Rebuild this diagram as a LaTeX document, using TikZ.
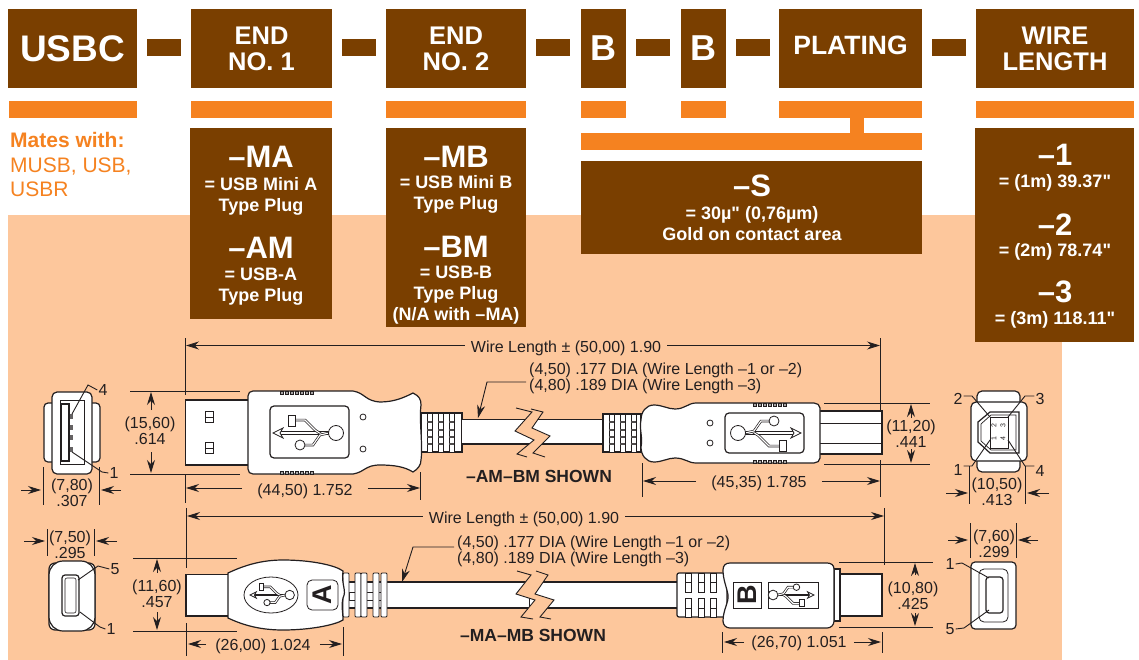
\documentclass[tikz,border=0pt]{standalone}
\usepackage{fontspec}
\setmainfont{Liberation Sans}[Ligatures=TeXOff]
\usepackage{tikz}
\usetikzlibrary{shapes,arrows,arrows.meta}
\definecolor{hdrbrown}{HTML}{7A3F00}
\definecolor{hdrorange}{HTML}{F58220}
\definecolor{hdrpeach}{HTML}{FDC79C}
\definecolor{ink}{HTML}{231F20}
\newcommand{\fsz}[1]{\fontsize{#1}{#1}\selectfont}
\tikzstyle{brownbox} = [rectangle, fill=hdrbrown, text=white, align=center, inner sep=0pt, font=\bfseries\fontsize{25.5}{26}\selectfont]
\tikzstyle{dashbar} = [rectangle, fill=hdrbrown, minimum width=34pt, minimum height=17pt, inner sep=0pt]
\tikzstyle{bar} = [rectangle, fill=hdrorange, minimum height=17pt, inner sep=0pt]
\tikzstyle{code} = [text=white, font=\bfseries\fsz{31}, inner sep=0pt]
\tikzstyle{sub} = [text=white, align=center, font=\bfseries\fontsize{18}{21}\selectfont, inner sep=0pt]
\tikzstyle{dimtext} = [text=ink, align=center, inner sep=1pt, yshift=-1pt, font=\fsz{16}]
\tikzstyle{shown} = [text=ink, inner sep=0pt, font=\bfseries\fsz{17.5}]
\tikzstyle{line} = [draw=ink, line width=.9pt, -{Stealth[length=13pt,width=8pt]}]
\tikzstyle{leader} = [draw=ink, line width=.9pt]
\tikzstyle{ext} = [draw=ink, line width=.9pt]
\tikzstyle{part} = [draw=ink, fill=white, line width=1.2pt]
\tikzstyle{rail} = [draw=ink, double=white, double distance=1.1pt, line width=.7pt]
\tikzset{usblogo/.pic={
  \draw [part, line width=.7pt] (5,-1.2) rectangle (56,1.2);
  \draw [rail] (20,-13) -- (32,-13) -- (42,-3) -- (48,1);
  \draw [rail] (30,12) -- (40,12) -- (47,2) -- (56,0);
  \draw [part, line width=.8pt] (15,-18) rectangle (22,-7);
  \draw [part, line width=.8pt] (27,12) circle (5);
  \draw [part, line width=.8pt] (63,0) circle (7.5);
  \draw [part, line width=.8pt] (0,0) -- (10,-5) -- (7,0) -- (10,5) -- cycle;
}}

\begin{document}
\begin{tikzpicture}[x=1pt, y=-1pt]
\useasboundingbox (0,0) rectangle (1139,660);

% header row
\node [brownbox, minimum width=129pt, minimum height=79pt, font=\bfseries\fsz{37}] at (72.5, 48.5) (usbc) {USBC};
\node [brownbox, minimum width=141pt, minimum height=79pt] at (261.5, 48.5) (endone) {END\\NO. 1};
\node [brownbox, minimum width=140pt, minimum height=79pt] at (456, 48.5) (endtwo) {END\\NO. 2};
\node [brownbox, minimum width=45pt, minimum height=79pt, font=\bfseries\fsz{36}] at (603.5, 48.5) (bone) {B};
\node [brownbox, minimum width=45pt, minimum height=79pt, font=\bfseries\fsz{36}] at (703.5, 48.5) (btwo) {B};
\node [brownbox, minimum width=143pt, minimum height=79pt, text height=18pt, text depth=6pt, font=\bfseries\fsz{26.5}] at (850.5, 48.5) (plating) {PLATING};
\node [brownbox, minimum width=158pt, minimum height=79pt] at (1055, 48.5) (wire) {WIRE\\LENGTH};
\foreach \x/\n in {164/a, 359/b, 553/c, 653/d, 752.5/e, 949/f}
  \node [dashbar] at (\x, 47.5) (dash\n) {};

% orange bars
\node [bar, minimum width=128pt] at (73, 109.5) (barusbc) {};
\node [bar, minimum width=141pt] at (261.5, 109.5) (barone) {};
\node [bar, minimum width=140pt] at (456, 109.5) (bartwo) {};
\node [bar, minimum width=45pt] at (603.5, 109.5) (barb) {};
\node [bar, minimum width=45pt] at (703.5, 109.5) (barc) {};
\node [bar, minimum width=143pt] at (850.5, 109.5) (barplat) {};
\node [bar, minimum width=158pt] at (1055, 109.5) (barwire) {};
\node [bar, minimum width=14pt, minimum height=16pt] at (857, 125.5) (barstem) {};
\node [bar, minimum width=341pt] at (751.5, 141.5) (bartee) {};

\node [text=hdrorange, font=\bfseries\fsz{21}, inner sep=0pt, anchor=west] at (10, 140) (mates) {Mates with:};
\node [text=hdrorange, font=\fsz{21}, inner sep=0pt, anchor=west, align=left] at (10, 177) (matelist) {MUSB, USB,\\[3pt]USBR};

% peach panel
\fill [hdrpeach] (8, 215) rectangle (1062, 660);

% option boxes
\node [brownbox, minimum width=142pt, minimum height=191pt] at (261, 223.5) (boxone) {};
\node [code] at (261, 157) (ma) {–MA};
\node [sub] at (261, 196) (masub) {= USB Mini A\\Type Plug};
\node [code] at (261, 248) (am) {–AM};
\node [sub] at (261, 286.5) (amsub) {= USB-A\\Type Plug};

\node [brownbox, minimum width=140pt, minimum height=199pt] at (456, 227.5) (boxtwo) {};
\node [code] at (456, 157) (mb) {–MB};
\node [sub] at (456, 194.5) (mbsub) {= USB Mini B\\Type Plug};
\node [code] at (456, 247) (bm) {–BM};
\node [sub] at (456, 295.5) (bmsub) {= USB-B\\Type Plug\\(N/A with –MA)};

\node [brownbox, minimum width=341pt, minimum height=93pt] at (751.5, 207.5) (boxplat) {};
\node [code] at (752, 186) (gold) {–S};
\node [sub] at (752, 224) (goldsub) {= 30µ" (0,76µm)\\Gold on contact area};

\node [brownbox, minimum width=159pt, minimum height=214pt] at (1054.5, 235) (boxwire) {};
\node [code] at (1055, 155) (one) {–1};
\node [sub] at (1055, 183) (onesub) {= (1m) 39.37"};
\node [code] at (1055, 225) (two) {–2};
\node [sub] at (1055, 252) (twosub) {= (2m) 78.74"};
\node [code] at (1055, 292) (three) {–3};
\node [sub] at (1055, 320) (threesub) {= (3m) 118.11"};

% front view, type A
\draw [part, rounded corners=4pt] (44, 403) rectangle (100, 462);
\draw [part, rounded corners=5pt] (52, 392) rectangle (92, 474);
\draw [part, line width=.8pt] (60, 400) rectangle (84, 464);
\draw [part, fill=white] (61.5, 404) rectangle (69, 461);
\foreach \y in {416, 427, 437, 449}
  \fill [ink!70] (70, \y-2.5) rectangle (73, \y+2.5);
\node [dimtext] at (103, 389) (afour) {4};
\node [dimtext] at (114, 472) (aone) {1};
\coordinate (apinfour) at (72, 414);
\coordinate (apinone) at (72, 452);
\path [leader] (afour.west) -- (88, 385) -- (apinfour);
\path [leader] (aone.west) -- (102, 472) -- (apinone);

\draw [ext] (43, 467) -- (43, 505);
\draw [ext] (99, 467) -- (99, 505);
\node [dimtext, yshift=-1pt] at (72, 491) (asize) {(7,80)\\.307};
\coordinate (asizel) at (41, 490);
\coordinate (asizer) at (101, 490);
\path [line] ([xshift=-20pt]asizel) to (asizel);
\path [line] ([xshift=20pt]asizer) to (asizer);

% type A plug
\draw [ext] (130, 391) -- (240, 391);
\draw [ext] (130, 474) -- (240, 474);
\draw [ext] (185.5, 338) -- (185.5, 395);
\draw [ext] (185.5, 474) -- (185.5, 503);
\draw [ext] (420.5, 472) -- (420.5, 500);
\node [dimtext] at (150, 430) (aheight) {(15,60)\\.614};
\coordinate (ahtop) at (151, 392);
\coordinate (ahbot) at (151, 473);
\path [line] (151, 410) to (ahtop);
\path [line] (151, 452) to (ahbot);

\draw [part] (185.5, 400) rectangle (250, 465);
\foreach \y in {417, 448} {
  \draw [part, line width=.8pt] (205, \y-5.5) rectangle (213, \y+5.5);
  \draw [ink, line width=.8pt] (205, \y) -- (213, \y);
}
\draw [part] (462, 413) -- (421, 413) -- (421, 452) -- (462, 452) -- cycle;
\foreach \x in {427, 438, 449} {
  \draw [ink, fill=white, line width=.9pt] (\x, 413) rectangle (\x+5, 452);
  \foreach \y in {422, 430, 437, 444}
    \draw [ink!80, line width=1.4pt] (\x, \y) -- (\x+5, \y);
}
\draw [part] (248, 396) .. controls (248, 393) and (250, 391) .. (253, 391) -- (353, 391)
  .. controls (365, 393) and (365, 401) .. (380, 402) .. controls (395, 402) and (405, 397) .. (413, 393)
  .. controls (419, 396) and (421, 399) .. (421, 405) .. controls (419, 420) and (423, 445) .. (421, 460)
  .. controls (421, 465) and (418, 469) .. (413, 472) .. controls (405, 467) and (395, 465) .. (380, 465)
  .. controls (365, 465) and (365, 472) .. (353, 474) -- (253, 474) .. controls (250, 474) and (248, 472) .. (248, 469) -- cycle;
\foreach \y/\d in {391/1, 474/-1}
  \foreach \x in {280, 285, ..., 310}
    \draw [ink, fill=ink!40, line width=.6pt] (\x, \y) rectangle (\x+3, \y+\d*3);
\draw [part, rounded corners=4pt] (270, 406) rectangle (349, 458);
\pic at (273, 433) {usblogo};
\draw [part, line width=.8pt] (363, 417) circle (3);
\draw [part, line width=.8pt] (363, 449) circle (3);

% top cable
\fill [white] (462, 419.5) rectangle (603, 444);
\draw [ink, line width=1.2pt] (462, 419.5) -- (603, 419.5);
\draw [ink, line width=1.2pt] (462, 444) -- (603, 444);
\fill [hdrpeach] (516, 408) -- (532, 412) -- (515, 431) -- (534, 440) -- (517, 454) -- (527, 457)
  -- (545, 457) -- (533, 453) -- (550, 436) -- (532, 428) -- (543, 412) -- (531, 409) -- cycle;
\draw [ink, line width=.9pt] (516, 408) -- (532, 412) -- (515, 431) -- (534, 440) -- (517, 454) -- (527, 457);
\draw [ink, line width=.9pt] (531, 409) -- (543, 412) -- (532, 428) -- (550, 436) -- (533, 453) -- (545, 457);

% type B plug
\draw [part] (603, 414) rectangle (641, 452);
\foreach \x in {609, 620, 631} {
  \draw [ink, fill=white, line width=.9pt] (\x, 414) rectangle (\x+5, 452);
  \foreach \y in {422, 430, 437, 444}
    \draw [ink!80, line width=1.4pt] (\x, \y) -- (\x+5, \y);
}
\draw [part] (818, 411) rectangle (882, 454);
\draw [ink, line width=.9pt] (818, 423) -- (882, 423);
\draw [ink, line width=.9pt] (818, 443) -- (882, 443);
\draw [part] (641, 420) .. controls (641, 412) and (646, 405) .. (654, 405) .. controls (662, 405) and (668, 409) .. (675, 409)
  .. controls (685, 409) and (688, 403) .. (696, 403) -- (814, 403) .. controls (817, 403) and (820, 405) .. (820, 408)
  -- (820, 458) .. controls (820, 461) and (817, 463) .. (814, 463) -- (696, 463)
  .. controls (688, 463) and (685, 458) .. (675, 458) .. controls (668, 458) and (662, 462) .. (654, 462)
  .. controls (646, 462) and (641, 455) .. (641, 447) .. controls (643, 438) and (639, 428) .. (641, 420) -- cycle;
\foreach \y/\d in {403/1, 463/-1}
  \foreach \x in {753, 758, ..., 783}
    \draw [ink, fill=ink!40, line width=.6pt] (\x, \y) rectangle (\x+3, \y+\d*3);
\draw [part, rounded corners=4pt] (725, 413) rectangle (804, 453);
\pic [rotate=180] at (801, 433) {usblogo};
\draw [part, line width=.8pt] (710, 423) circle (3);
\draw [part, line width=.8pt] (710, 443) circle (3);

% top dimensions
\draw [ext] (880.5, 338) -- (880.5, 411);
\draw [ext] (880.5, 460) -- (880.5, 497);
\draw [ext] (642, 463) -- (642, 497);
\draw [ext] (824, 403) -- (930, 403);
\draw [ext] (824, 464) -- (930, 464);
\node [dimtext, yshift=-1pt] at (566, 346) (wirea) {Wire Length ± (50,00) 1.90};
\coordinate (wireal) at (186, 345.5);
\coordinate (wirear) at (880, 345.5);
\path [line] ([xshift=-5pt]wirea.west |- wireal) to (wireal);
\path [line] ([xshift=5pt]wirea.east |- wirear) to (wirear);
\node [dimtext, anchor=north west, align=left] at (528, 361) (diaa) {(4,50) .177 DIA (Wire Length –1 or –2)\\(4,80) .189 DIA (Wire Length –3)};
\coordinate (diaapin) at (478, 418);
\path [line] (526, 382) -- (487, 382) -- (diaapin);
\node [dimtext] at (305, 490) (aplug) {(44,50) 1.752};
\coordinate (aplugl) at (186, 488);
\coordinate (aplugr) at (420, 488);
\path [line] ([xshift=-14pt]aplug.west |- aplugl) to (aplugl);
\path [line] ([xshift=14pt]aplug.east |- aplugr) to (aplugr);
\node [dimtext] at (759, 482) (bplug) {(45,35) 1.785};
\coordinate (bplugl) at (643, 481);
\coordinate (bplugr) at (880, 481);
\path [line] ([xshift=-14pt]bplug.west |- bplugl) to (bplugl);
\path [line] ([xshift=14pt]bplug.east |- bplugr) to (bplugr);
\node [dimtext] at (911, 433) (bheight) {(11,20)\\.441};
\coordinate (bhtop) at (911, 404);
\coordinate (bhbot) at (911, 463);
\path [line] (911, 418) to (bhtop);
\path [line] (911, 449) to (bhbot);
\node [shown] at (539, 476) (amshown) {–AM–BM SHOWN};

% front view, type B
\draw [part, rounded corners=5pt] (977, 391) rectangle (1020, 472);
\draw [part, rounded corners=5pt] (971, 402) rectangle (1027, 461);
\draw [part, fill=white, line width=1.2pt] (978, 422) -- (990, 412) -- (1019, 412) -- (1019, 453) -- (990, 453) -- (978, 442) -- cycle;
\draw [ink, line width=.7pt] (981, 424) -- (991, 415) -- (1016, 415) -- (1016, 450) -- (991, 450) -- (981, 441) -- cycle;
\draw [part, line width=.8pt] (990, 417) rectangle (1008, 448);
\node [inner sep=0pt, rotate=90, text=ink, font=\fsz{7}] at (994, 426) (ptwo) {2};
\node [inner sep=0pt, rotate=90, text=ink, font=\fsz{7}] at (1003, 426) (pthree) {3};
\node [inner sep=0pt, rotate=90, text=ink, font=\fsz{7}] at (994, 439) (pone) {1};
\node [inner sep=0pt, rotate=90, text=ink, font=\fsz{7}] at (1003, 439) (pfour) {4};
\node [dimtext] at (958, 398) (btwol) {2};
\node [dimtext] at (1040, 398) (bthreel) {3};
\node [dimtext] at (958, 469) (bonel) {1};
\node [dimtext] at (1040, 470) (bfourl) {4};
\coordinate (bptwo) at (990, 417);
\coordinate (bpthree) at (1008, 417);
\coordinate (bpone) at (990, 440);
\coordinate (bpfour) at (1008, 440);
\path [leader] (btwol.east |- 0, 396) -- (972, 396) -- (bptwo);
\path [leader] (bthreel.west |- 0, 396) -- (1025, 396) -- (bpthree);
\path [leader] (bonel.east |- 0, 466) -- (972, 466) -- (bpone);
\path [leader] (bfourl.west |- 0, 466) -- (1025, 466) -- (bpfour);
\draw [ext] (969.5, 466) -- (969.5, 504);
\draw [ext] (1025, 466) -- (1025, 504);
\node [dimtext] at (997, 491) (bsize) {(10,50)\\.413};
\coordinate (bsizel) at (968, 493);
\coordinate (bsizer) at (1027, 493);
\path [line] ([xshift=-22pt]bsizel) to (bsizel);
\path [line] ([xshift=22pt]bsizer) to (bsizer);

% front view, mini A
\draw [part, rounded corners=6pt] (49, 563) rectangle (95, 630);
\draw [part, rounded corners=14pt] (49, 561) rectangle (95, 631);
\draw [part, line width=1.2pt, rounded corners=3pt] (62, 575) rectangle (79, 616);
\draw [ink, line width=.6pt, rounded corners=2pt] (65, 578) rectangle (76, 613);
\node [dimtext] at (115, 568) (mafive) {5};
\node [dimtext] at (111, 628) (maone) {1};
\coordinate (mapinfive) at (78, 580);
\coordinate (mapinone) at (80, 612);
\path [leader] (mafive.west) -- (98, 566) -- (mapinfive);
\path [leader] (maone.west) -- (100, 627) -- (mapinone);
\draw [ext] (47, 529) -- (47, 556);
\draw [ext] (94, 529) -- (94, 556);
\node [dimtext] at (70, 544) (masize) {(7,50)\\.295};
\coordinate (masizel) at (45, 541);
\coordinate (masizer) at (96, 541);
\path [line] ([xshift=-21pt]masizel) to (masizel);
\path [line] ([xshift=21pt]masizer) to (masizer);

% mini A plug
\draw [ext] (133, 558) -- (237, 558);
\draw [ext] (133, 631) -- (237, 631);
\draw [ext] (186, 508) -- (186, 568);
\draw [ext] (186, 623) -- (186, 656);
\draw [ext] (343, 627) -- (343, 656);
\draw [part] (186, 574.5) rectangle (232, 616);
\draw [part] (343, 582) rectangle (530, 608);
\draw [ink, fill=white, line width=.8pt] (349, 592) rectangle (382, 600);
\foreach \xa/\xb in {343/349, 355/361, 361/367, 373/379, 381/387}
  \draw [part, rounded corners=1pt, line width=.8pt] (\xa, 573) rectangle (\xb, 617);
\draw [part] (228, 573) .. controls (245, 565) and (262, 560) .. (283, 560) .. controls (310, 560) and (335, 565) .. (343, 571)
  .. controls (341, 585) and (347, 590) .. (343, 598) .. controls (341, 605) and (343, 612) .. (343, 620)
  .. controls (335, 625) and (310, 630) .. (283, 630) .. controls (262, 630) and (245, 626) .. (228, 618) -- cycle;
\draw [part, line width=.8pt] (271, 595) ellipse (27 and 18);
\pic [scale=.63] at (250, 595) {usblogo};
\draw [part, rounded corners=5pt, line width=.8pt] (307, 580) rectangle (338, 610);
\node [inner sep=0pt, rotate=90, text=ink, font=\bfseries\fsz{27}] at (322.5, 595) (alabel) {A};

% bottom cable
\fill [white] (530, 582) rectangle (677, 608);
\draw [ink, line width=1.2pt] (530, 582) -- (677, 582);
\draw [ink, line width=1.2pt] (530, 608) -- (677, 608);
\fill [hdrpeach] (517, 571) -- (531, 575) -- (516, 594) -- (535, 600) -- (521, 617) -- (533, 619)
  -- (551, 619) -- (540, 617) -- (554, 600) -- (535, 594) -- (548, 575) -- (536, 571) -- cycle;
\draw [ink, line width=.9pt] (517, 571) -- (531, 575) -- (516, 594) -- (535, 600) -- (521, 617) -- (533, 619);
\draw [ink, line width=.9pt] (536, 571) -- (548, 575) -- (535, 594) -- (554, 600) -- (540, 617) -- (551, 619);

% mini B plug
\draw [part, rounded corners=2pt] (677, 573) rectangle (727, 617);
\foreach \x in {685, 698, 710} {
  \draw [ink, fill=white, line width=.8pt] (\x, 573) rectangle (\x+6, 592);
  \draw [ink, fill=white, line width=.8pt] (\x, 598) rectangle (\x+6, 617);
  \draw [ink, line width=.8pt] (\x, 582) -- (\x+6, 582);
  \draw [ink, line width=.8pt] (\x, 608) -- (\x+6, 608);
}
\draw [part] (838, 574) rectangle (882, 616);
\draw [part] (834, 569) rectangle (840, 621);
\draw [part] (730, 563) -- (827, 563) .. controls (831, 563) and (834, 565) .. (834, 569) -- (834, 621)
  .. controls (834, 625) and (831, 628) .. (827, 628) -- (730, 628) .. controls (726, 628) and (723, 625) .. (723, 621)
  .. controls (723, 610) and (729, 602) .. (728, 595) .. controls (727, 588) and (723, 580) .. (723, 570)
  .. controls (723, 565) and (726, 563) .. (730, 563) -- cycle;
\draw [part, line width=.9pt] (733, 582) rectangle (761, 608);
\node [inner sep=0pt, rotate=90, text=ink, font=\bfseries\fsz{27}] at (747, 595) (blabel) {B};
\draw [part, line width=.9pt] (768, 582) rectangle (818, 608);
\pic [rotate=180, scale=.65] at (814, 595) {usblogo};

% bottom dimensions
\draw [ext] (884, 508) -- (884, 565);
\draw [ext] (839, 562) -- (933, 562);
\draw [ext] (839, 627) -- (933, 627);
\draw [ext] (722, 632) -- (722, 653);
\draw [ext] (882, 632) -- (882, 653);
\node [dimtext, yshift=-1pt] at (524, 517) (wireb) {Wire Length ± (50,00) 1.90};
\coordinate (wirebl) at (187, 516);
\coordinate (wirebr) at (884, 516);
\path [line] ([xshift=-5pt]wireb.west |- wirebl) to (wirebl);
\path [line] ([xshift=5pt]wireb.east |- wirebr) to (wirebr);
\node [dimtext, anchor=north west, align=left, yshift=-1pt] at (456, 533) (diab) {(4,50) .177 DIA (Wire Length –1 or –2)\\(4,80) .189 DIA (Wire Length –3)};
\coordinate (diabpin) at (402, 582);
\path [line] (454, 547) -- (413, 547) -- (diabpin);
\node [dimtext] at (157, 593) (mah) {(11,60)\\.457};
\coordinate (mahtop) at (157, 559);
\coordinate (mahbot) at (157, 630);
\path [line] (157, 573) to (mahtop);
\path [line] (157, 612) to (mahbot);
\node [dimtext, yshift=-1pt] at (263, 644) (maplug) {(26,00) 1.024};
\coordinate (maplugl) at (188, 644);
\coordinate (maplugr) at (342, 644);
\path [line] ([xshift=-8pt]maplug.west |- maplugl) to (maplugl);
\path [line] ([xshift=8pt]maplug.east |- maplugr) to (maplugr);
\node [dimtext] at (799, 642) (mbplug) {(26,70) 1.051};
\coordinate (mbplugl) at (724, 642);
\coordinate (mbplugr) at (881, 642);
\path [line] ([xshift=-6pt]mbplug.west |- mbplugl) to (mbplugl);
\path [line] ([xshift=6pt]mbplug.east |- mbplugr) to (mbplugr);
\node [dimtext] at (913, 595) (mbh) {(10,80)\\.425};
\coordinate (mbhtop) at (915, 563);
\coordinate (mbhbot) at (915, 626);
\path [line] (915, 575) to (mbhtop);
\path [line] (915, 613) to (mbhbot);
\node [shown] at (533, 635) (mashown) {–MA–MB SHOWN};

% front view, mini B
\draw [part, rounded corners=4pt] (971, 562) rectangle (1016, 629);
\draw [part, rounded corners=5pt, line width=.8pt] (979, 569) rectangle (1008, 622);
\draw [part, line width=1.2pt, rounded corners=3pt] (986, 577) rectangle (1003, 613);
\node [dimtext] at (950, 563) (mbone) {1};
\node [dimtext] at (950, 628) (mbfive) {5};
\coordinate (mbpinone) at (989, 578);
\coordinate (mbpinfive) at (989, 610);
\path [leader] (mbone.east) -- (962, 563) -- (mbpinone);
\path [leader] (mbfive.east) -- (964, 628) -- (mbpinfive);
\draw [ext] (970, 523) -- (970, 558);
\draw [ext] (1016, 523) -- (1016, 558);
\node [dimtext] at (994, 543) (mbsize) {(7,60)\\.299};
\coordinate (mbsizel) at (968, 540);
\coordinate (mbsizer) at (1018, 540);
\path [line] ([xshift=-20pt]mbsizel) to (mbsizel);
\path [line] ([xshift=20pt]mbsizer) to (mbsizer);

\end{tikzpicture}
\end{document}
